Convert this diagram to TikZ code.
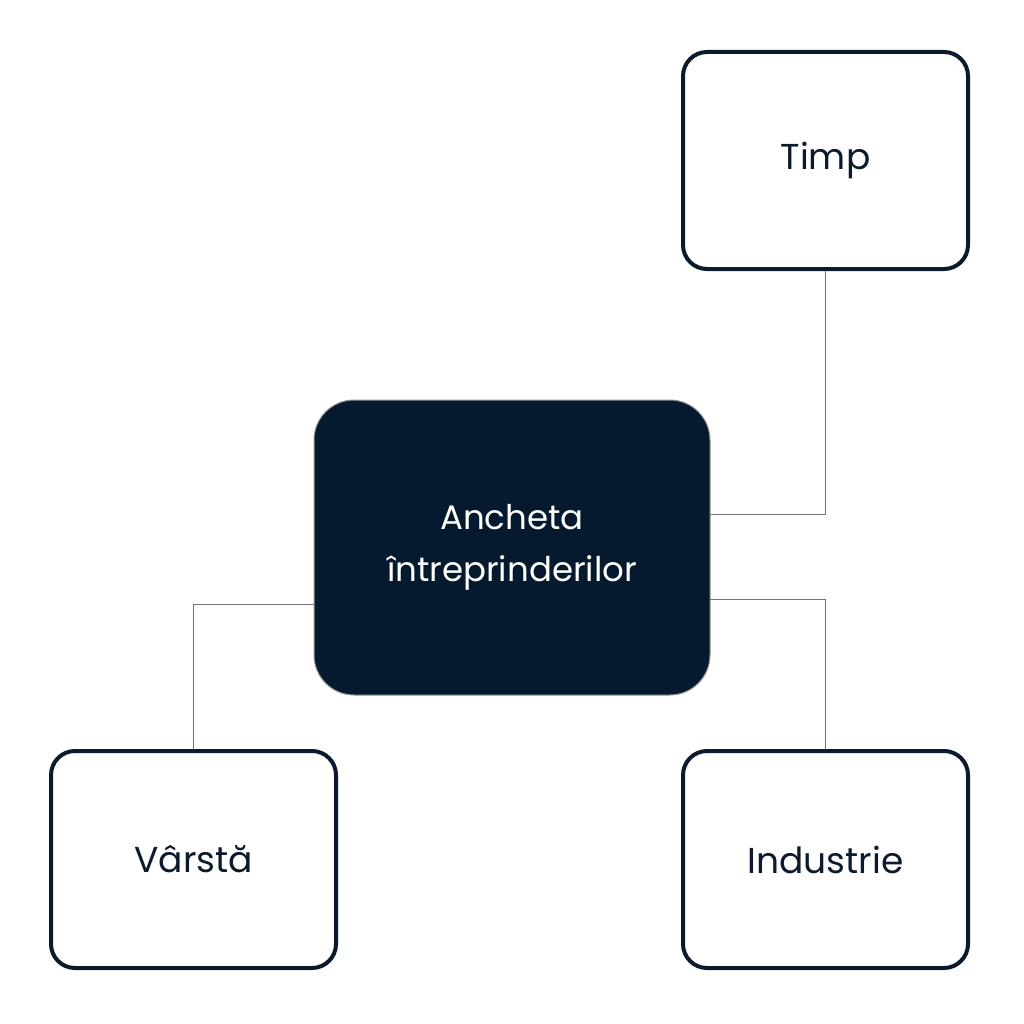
\documentclass[tikz,border=0pt]{standalone}
\usepackage{fontspec}
\setmainfont{Poppins}
\definecolor{navy}{HTML}{051A2E}
\definecolor{edge}{HTML}{0B1A2C}
\begin{document}
\begin{tikzpicture}[x=1pt,y=-1pt,
  leaf/.style={draw=edge,line width=4pt,rounded corners=24pt,minimum width=285pt,minimum height=217pt,fill=white,text=edge,font=\fontsize{36}{44}\selectfont},
  hub/.style={draw=gray!80,line width=1pt,rounded corners=40pt,minimum width=396pt,minimum height=295pt,fill=navy,text=white,align=center,font=\fontsize{34}{52}\selectfont},
  link/.style={draw=gray!90!black,line width=1pt}]
\useasboundingbox (0,0) rectangle (1024,1024);
\node[hub] (c) at (512,547.5) {Ancheta\\întreprinderilor};
\node[leaf] (t) at (825.5,160.5) {Timp};
\node[leaf] (v) at (193.5,859.5) {Vârstă};
\node[leaf] (i) at (825.5,859.5) {Industrie};
\coordinate (ct) at (710,514);
\coordinate (ci) at (710,599);
\coordinate (cv) at (314,604);
\draw[link] (t.south) -- (t.south |- ct) -- (ct);
\draw[link] (ci) -- (i.north |- ci) -- (i.north);
\draw[link] (cv) -- (v.north |- cv) -- (v.north);
\end{tikzpicture}
\end{document}
